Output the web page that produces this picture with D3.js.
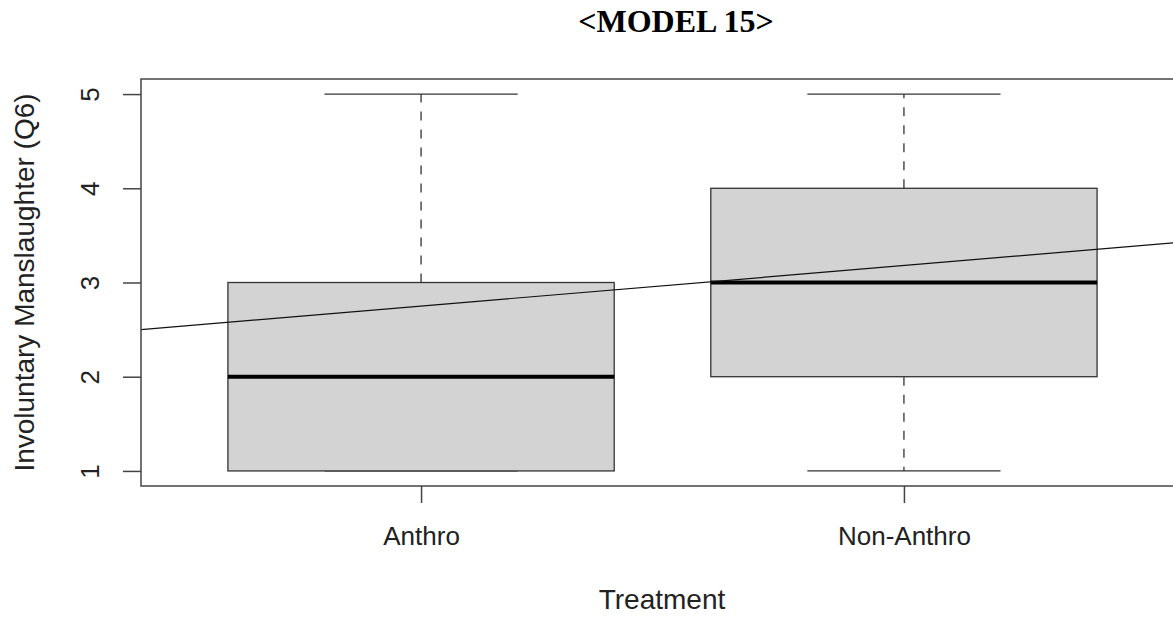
<!DOCTYPE html>
<html>
<head>
<meta charset="utf-8">
<script src="https://cdn.jsdelivr.net/npm/d3@7"></script>
<style>
  body { margin: 0; background: #fff; }
  text { font-family: "Liberation Sans", Arial, sans-serif; fill: #222; }
</style>
</head>
<body>
<svg id="chart"></svg>
<script>
// data
const groups = ["Anthro", "Non-Anthro"];
const mins = [1, 1];
const q1s = [1, 2];
const medians = [2, 3];
const q3s = [3, 4];
const maxs = [5, 5];
const yTicks = [1, 2, 3, 4, 5];
// fitted line (value at group position x = intercept + slope * x)
const lineIntercept = 2.32;
const lineSlope = 0.43;

const width = 1173;
const height = 618;
const plotLeft = 141;
const plotRight = 1184;
const plotTop = 79;
const plotBottom = 486;

const svg = d3.select("#chart").attr("width", width).attr("height", height);

const x = d3.scaleLinear().domain([0.42, 2.58]).range([plotLeft, plotRight]);
const y = d3.scaleLinear().domain([0.84, 5.16]).range([plotBottom, plotTop]);

const boxHalf = 0.4;
const capHalf = 0.2;

svg.append("defs").append("clipPath").attr("id", "plotClip")
  .append("rect")
  .attr("x", plotLeft).attr("y", plotTop)
  .attr("width", plotRight - plotLeft).attr("height", plotBottom - plotTop);

const data = groups.map((g, i) => ({
  name: g, pos: i + 1, min: mins[i], q1: q1s[i], med: medians[i], q3: q3s[i], max: maxs[i]
}));

const box = svg.selectAll(".box").data(data).join("g").attr("class", "box");

// whiskers (dashed)
box.append("line")
  .attr("x1", d => x(d.pos)).attr("x2", d => x(d.pos))
  .attr("y1", d => y(d.q3)).attr("y2", d => y(d.max))
  .attr("stroke", "#333").attr("stroke-width", 1.3).attr("stroke-dasharray", "9,9");
box.filter(d => d.min < d.q1).append("line")
  .attr("x1", d => x(d.pos)).attr("x2", d => x(d.pos))
  .attr("y1", d => y(d.q1)).attr("y2", d => y(d.min))
  .attr("stroke", "#333").attr("stroke-width", 1.3).attr("stroke-dasharray", "9,9");

// caps
box.append("line")
  .attr("x1", d => x(d.pos - capHalf)).attr("x2", d => x(d.pos + capHalf))
  .attr("y1", d => y(d.max)).attr("y2", d => y(d.max))
  .attr("stroke", "#333").attr("stroke-width", 1.3);
box.append("line")
  .attr("x1", d => x(d.pos - capHalf)).attr("x2", d => x(d.pos + capHalf))
  .attr("y1", d => y(d.min)).attr("y2", d => y(d.min))
  .attr("stroke", "#333").attr("stroke-width", 1.3);

// box
box.append("rect")
  .attr("x", d => x(d.pos - boxHalf))
  .attr("width", d => x(d.pos + boxHalf) - x(d.pos - boxHalf))
  .attr("y", d => y(d.q3))
  .attr("height", d => y(d.q1) - y(d.q3))
  .attr("fill", "#d3d3d3").attr("stroke", "#333").attr("stroke-width", 1.3);

// median
box.append("line")
  .attr("x1", d => x(d.pos - boxHalf)).attr("x2", d => x(d.pos + boxHalf))
  .attr("y1", d => y(d.med)).attr("y2", d => y(d.med))
  .attr("stroke", "#000").attr("stroke-width", 4);

// regression line
svg.append("line")
  .attr("clip-path", "url(#plotClip)")
  .attr("x1", x(0.42)).attr("y1", y(lineIntercept + lineSlope * 0.42))
  .attr("x2", x(2.58)).attr("y2", y(lineIntercept + lineSlope * 2.58))
  .attr("stroke", "#111").attr("stroke-width", 1.2);

// plot frame
svg.append("rect")
  .attr("x", plotLeft).attr("y", plotTop)
  .attr("width", plotRight - plotLeft).attr("height", plotBottom - plotTop)
  .attr("fill", "none").attr("stroke", "#444").attr("stroke-width", 1.5);

// axes
const yAxis = svg.append("g")
  .attr("transform", `translate(${plotLeft},0)`)
  .call(d3.axisLeft(y).tickValues(yTicks).tickSize(18).tickFormat(d3.format("d")));
yAxis.select(".domain").remove();
yAxis.selectAll(".tick line").attr("stroke", "#444").attr("stroke-width", 1.5);
yAxis.selectAll(".tick text")
  .attr("font-size", 26)
  .attr("x", 0).attr("dy", 0)
  .attr("text-anchor", "middle")
  .attr("transform", "translate(-42,0) rotate(-90)");

const xAxis = svg.append("g")
  .attr("transform", `translate(0,${plotBottom})`)
  .call(d3.axisBottom(x).tickValues([1, 2]).tickSize(17).tickPadding(24).tickFormat(d => groups[d - 1]));
xAxis.select(".domain").remove();
xAxis.selectAll(".tick line").attr("stroke", "#444").attr("stroke-width", 1.5);
xAxis.selectAll(".tick text").attr("font-size", 26).attr("dy", "0.71em");

// axis titles
svg.append("text")
  .attr("x", 662).attr("y", 609)
  .attr("text-anchor", "middle")
  .attr("font-size", 28)
  .text("Treatment");

svg.append("text")
  .attr("transform", `translate(34,${(plotTop + plotBottom) / 2}) rotate(-90)`)
  .attr("text-anchor", "middle")
  .attr("font-size", 28)
  .text("Involuntary Manslaughter (Q6)");

// title
svg.append("text")
  .attr("x", 676).attr("y", 32)
  .attr("text-anchor", "middle")
  .style("font-family", "'Liberation Serif', 'Times New Roman', serif")
  .style("font-weight", "bold")
  .style("fill", "#000")
  .attr("font-size", 32)
  .text("<MODEL 15>");
</script>
</body>
</html>
